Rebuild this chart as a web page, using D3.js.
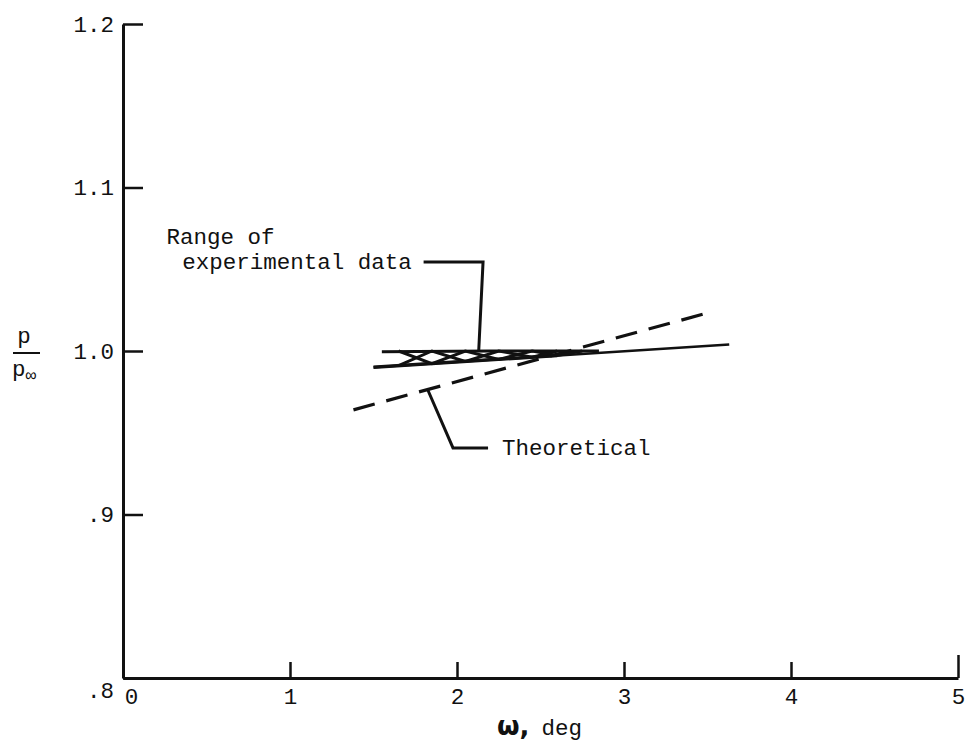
<!DOCTYPE html>
<html>
<head>
<meta charset="utf-8">
<script src="https://cdn.jsdelivr.net/npm/d3@7"></script>
<style>
  body { margin: 0; background: #fff; }
  text { font-family: "Liberation Mono", monospace; fill: #111; }
</style>
</head>
<body>
<div id="chart"></div>
<script>
// axis ticks
const xTicks = [0, 1, 2, 3, 4, 5];
const yTicks = [0.8, 0.9, 1.0, 1.1, 1.2];
const yTickLabels = ['.8', '.9', '1.0', '1.1', '1.2'];

// theoretical curves (omega deg, p/pinf)
const theoryDashed = [[1.38, 0.964], [3.49, 1.023]];
const theorySolid = [[1.50, 0.990], [3.63, 1.004]];

// range of experimental data: upper edge (lower edge is the solid line)
const bandUpper = [[1.55, 0.9995], [2.2, 1.0], [2.85, 1.0]];
const hatchA = [[1.65, 1.0], [1.85, 0.9923], [2.05, 1.0], [2.25, 0.9949], [2.45, 1.0], [2.6, 0.9972], [2.75, 1.0]];
const hatchB = [[1.65, 0.991], [1.85, 1.0], [2.05, 0.9936], [2.25, 1.0], [2.45, 0.9962], [2.6, 1.0]];

// leader lines
const rangeLeader = [[1.80, 1.0545], [2.156, 1.0545], [2.13, 1.0]];
const theoryLeader = [[1.826, 0.976], [1.976, 0.9407], [2.186, 0.9407]];

const svgWidth = 968;
const svgHeight = 744;

const svg = d3.select('#chart')
    .append('svg')
    .attr('width', svgWidth)
    .attr('height', svgHeight);

const xScale = d3.scaleLinear().domain([0, 5]).range([123, 958]);
const yScale = d3.scaleLinear().domain([0.8, 1.2]).range([678, 24]);

const line = d3.line().x(d => xScale(d[0])).y(d => yScale(d[1]));

// y axis, ticks pointing into the plot
const yAxis = svg.append('g')
    .attr('transform', `translate(${xScale(0)},0)`)
    .call(d3.axisLeft(yScale)
        .tickValues(yTicks)
        .tickSizeInner(-20)
        .tickSizeOuter(0)
        .tickPadding(9)
        .tickFormat((d, i) => yTickLabels[i]));
yAxis.select('.domain').attr('stroke', '#111').attr('stroke-width', 3);
yAxis.selectAll('.tick line').attr('stroke', '#111').attr('stroke-width', 2.5);
yAxis.selectAll('.tick text')
    .attr('fill', '#111')
    .style('font-size', '22.5px')
    .attr('dy', d => d === 0.8 ? '0.85em' : '0.32em');

// x axis, ticks pointing up
const xAxis = svg.append('g')
    .attr('transform', `translate(0,${yScale(0.8)})`)
    .call(d3.axisBottom(xScale)
        .tickValues(xTicks)
        .tickSizeInner(-16)
        .tickSizeOuter(0)
        .tickPadding(10)
        .tickFormat(d3.format('d')));
xAxis.select('.domain').attr('stroke', '#111').attr('stroke-width', 3);
xAxis.selectAll('.tick line')
    .attr('stroke', '#111')
    .attr('stroke-width', 2.5)
    .attr('y2', d => d === 5 ? -23 : (d === 0 ? 0 : -16));
xAxis.selectAll('.tick text')
    .attr('fill', '#111')
    .style('font-size', '22.5px')
    .attr('x', d => d === 0 ? 8 : 0);

// theoretical dashed line
svg.append('path')
    .datum(theoryDashed)
    .attr('d', line)
    .attr('fill', 'none')
    .attr('stroke', '#111')
    .attr('stroke-width', 3.2)
    .attr('stroke-dasharray', '22,12');

// solid line (lower edge of data band)
svg.append('path')
    .datum(theorySolid)
    .attr('d', line)
    .attr('fill', 'none')
    .attr('stroke', '#111')
    .attr('stroke-width', 2.5);

svg.append('path')
    .datum(bandUpper)
    .attr('d', line)
    .attr('fill', 'none')
    .attr('stroke', '#111')
    .attr('stroke-width', 3);

// thicken start of lower edge
svg.append('path')
    .datum([theorySolid[0], [2.6, 0.9972]])
    .attr('d', line)
    .attr('fill', 'none')
    .attr('stroke', '#111')
    .attr('stroke-width', 3.5);

[hatchA, hatchB].forEach(h => {
    svg.append('path')
        .datum(h)
        .attr('d', line)
        .attr('fill', 'none')
        .attr('stroke', '#111')
        .attr('stroke-width', 3);
});

// leaders
[rangeLeader, theoryLeader].forEach(l => {
    svg.append('path')
        .datum(l)
        .attr('d', line)
        .attr('fill', 'none')
        .attr('stroke', '#111')
        .attr('stroke-width', 3);
});

// annotations
const note = (txt, xv, yv) => svg.append('text')
    .attr('x', xScale(xv))
    .attr('y', yScale(yv))
    .attr('dy', '0.32em')
    .style('font-size', '22.5px')
    .text(txt);
note('Range of', 0.26, 1.0697);
note('experimental data', 0.355, 1.0545);
note('Theoretical', 2.27, 0.9407);

// y label p / p_inf
svg.append('text')
    .attr('x', 24).attr('y', 343).attr('text-anchor', 'middle')
    .style('font-size', '22.5px').text('p');
svg.append('line')
    .attr('x1', 13).attr('x2', 40).attr('y1', 353).attr('y2', 353)
    .attr('stroke', '#111').attr('stroke-width', 2);
const pinf = svg.append('text')
    .attr('x', 12).attr('y', 376)
    .style('font-size', '22.5px');
pinf.append('tspan').text('p');
pinf.append('tspan').attr('dy', 5).style('font-size', '18px').text('∞');

// x label
const xl = svg.append('text')
    .attr('x', 497).attr('y', 735);
xl.append('tspan')
    .style('font-family', '"DejaVu Sans", sans-serif')
    .style('font-weight', 'bold')
    .style('font-size', '26px')
    .text('ω,');
xl.append('tspan').attr('dx', 12).style('font-size', '22.5px').text('deg');
</script>
</body>
</html>
